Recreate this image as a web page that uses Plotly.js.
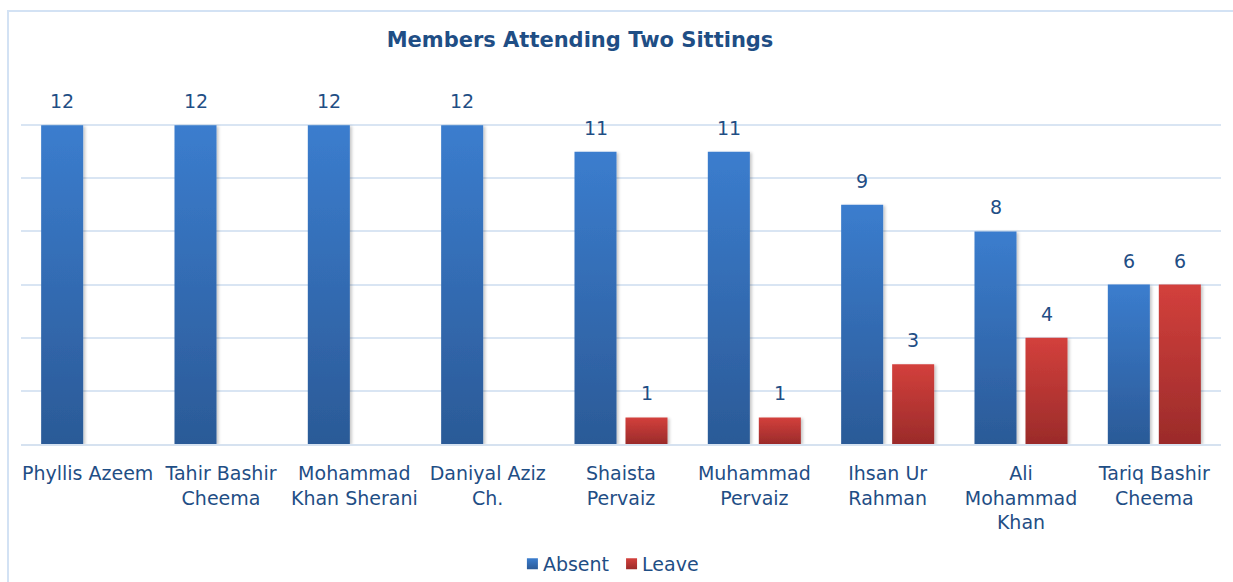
<!DOCTYPE html>
<html>
<head>
<meta charset="utf-8">
<script src="https://cdn.plot.ly/plotly-3.0.1.min.js"></script>
<style>
html,body{margin:0;padding:0;background:#fff;overflow:hidden;}
#wrap{position:relative;width:1233px;height:582px;overflow:hidden;}
#chart{width:1233px;height:582px;}
#frame{position:absolute;left:7px;top:10px;width:1400px;height:700px;
       border-left:2px solid #d3e2f4;border-top:2px solid #d3e2f4;pointer-events:none;}
</style>
</head>
<body>
<div id="wrap">
<div id="chart"></div>
<div id="frame"></div>
</div>
<script>
const categories = [
  "Phyllis Azeem",
  "Tahir Bashir<br>Cheema",
  "Mohammad<br>Khan Sherani",
  "Daniyal Aziz<br>Ch.",
  "Shaista<br>Pervaiz",
  "Muhammad<br>Pervaiz",
  "Ihsan Ur<br>Rahman",
  "Ali<br>Mohammad<br>Khan",
  "Tariq Bashir<br>Cheema"
];
const absentValues = [12, 12, 12, 12, 11, 11, 9, 8, 6];
const leaveValues  = [0, 0, 0, 0, 1, 1, 3, 4, 6];
const seriesNames = ["Absent", "Leave"];
const chartTitle = "Members Attending Two Sittings";

const textColor = "#1f4e85";
const fontFam = "DejaVu Sans, Verdana, sans-serif";
const fs = 19;

const traces = [
  {type:"bar", name:seriesNames[0], x:categories, y:absentValues,
   marker:{color:"#3470bd"}, hoverinfo:"none"},
  {type:"bar", name:seriesNames[1], x:categories, y:leaveValues,
   marker:{color:"#c03a38"}, hoverinfo:"none"}
];

// value labels as annotations (shifted to their group slot)
const annotations = [];
const slotShift = 25.5;
[absentValues, leaveValues].forEach((vals, si) => {
  vals.forEach((v, i) => {
    if (v > 0) {
      annotations.push({
        x: categories[i], y: v, xref:"x", yref:"y",
        text: String(v), showarrow:false,
        xshift: si === 0 ? -slotShift : slotShift,
        yshift: 24, yanchor:"middle",
        font:{family:fontFam, size:fs, color:textColor}
      });
    }
  });
});

const layout = {
  width:1233, height:582,
  margin:{l:21, r:12, t:72, b:138},
  paper_bgcolor:"rgba(0,0,0,0)", plot_bgcolor:"rgba(0,0,0,0)",
  font:{family:fontFam, color:textColor, size:fs},
  title:{text:"<b>"+chartTitle+"</b>", x:580/1233, xref:"container", xanchor:"center",
         y:1-40/582, yref:"container", yanchor:"middle",
         font:{family:fontFam, size:21, color:"#1f4e85"}},
  barmode:"group", bargap:0.235, bargroupgap:0.176,
  xaxis:{type:"category", showgrid:false, showline:true, linecolor:"#d6e2f0", linewidth:2,
         ticks:"", tickfont:{family:fontFam, size:fs, color:textColor}, ticklabelstandoff:11,
         fixedrange:true},
  yaxis:{range:[0,14], dtick:2, showticklabels:false, gridcolor:"#d9e5f3", gridwidth:2,
         zeroline:false, showline:false, ticks:"", fixedrange:true},
  showlegend:true,
  legend:{orientation:"h", xref:"container", x:615/1233, xanchor:"center",
          yref:"container", y:1-564/582, yanchor:"middle",
          font:{family:fontFam, size:fs, color:textColor}, itemwidth:30},
  annotations:annotations
};

Plotly.newPlot("chart", traces, layout, {staticPlot:true, displayModeBar:false}).then(gd => {
  const svg = gd.querySelector(".main-svg");
  const NS = "http://www.w3.org/2000/svg";
  const defs = document.createElementNS(NS, "defs");
  function grad(id, top, bottom){
    const g = document.createElementNS(NS, "linearGradient");
    g.setAttribute("id", id); g.setAttribute("x1","0"); g.setAttribute("y1","0");
    g.setAttribute("x2","0"); g.setAttribute("y2","1");
    [[0,top],[1,bottom]].forEach(([o,c])=>{
      const s = document.createElementNS(NS,"stop");
      s.setAttribute("offset", o); s.setAttribute("stop-color", c);
      g.appendChild(s);
    });
    defs.appendChild(g);
  }
  grad("gradA", "#3b7dce", "#2b5a97");
  grad("gradL", "#d3403c", "#9b2b2a");
  const f = document.createElementNS(NS, "filter");
  f.setAttribute("id","barShadow"); f.setAttribute("x","-20%"); f.setAttribute("y","-20%");
  f.setAttribute("width","150%"); f.setAttribute("height","150%");
  const ds = document.createElementNS(NS, "feDropShadow");
  ds.setAttribute("dx","2"); ds.setAttribute("dy","1"); ds.setAttribute("stdDeviation","1.5");
  ds.setAttribute("flood-color","#000"); ds.setAttribute("flood-opacity","0.22");
  f.appendChild(ds); defs.appendChild(f);
  svg.insertBefore(defs, svg.firstChild);
  const ids = ["gradA","gradL"];
  gd.querySelectorAll(".barlayer .trace").forEach((t, i) => {
    t.querySelectorAll("path").forEach(p => {
      p.style.fill = "url(#" + ids[i] + ")";
      p.setAttribute("filter","url(#barShadow)");
    });
  });

  // tighten legend: small squares close to their labels, centred
  const items = Array.from(gd.querySelectorAll(".legend .traces"));
  items.forEach((t, i) => {
    t.querySelectorAll(".legendpoints path").forEach(p => {
      p.style.fill = "url(#" + ids[i] + ")";
      p.setAttribute("d", "M5.5,5.5H-5.5V-5.5H5.5Z");
    });
  });
  const groupsEl = gd.querySelector(".legend .groups") || items[0].parentNode;
  const ctm = groupsEl.getCTM();
  const widths = items.map(t => t.querySelector("text.legendtext").getComputedTextLength());
  const textOff = 30.5, between = 22.5;
  const total = 14 + (textOff-20) ; // unused helper
  const span = (textOff - 14) + widths[0] + between + (textOff - 20) + widths[1] + 6;
  const centre = 615.5;
  let x = centre - span/2 - 14; // origin of first item (square left at origin+14)
  items.forEach((t, i) => {
    const tf = t.getAttribute("transform") || "";
    const m = tf.match(/translate\(\s*([-\d.]+)[ ,]+([-\d.]+)\s*\)/);
    const y = m ? parseFloat(m[2]) : 0;
    t.setAttribute("transform", "translate(" + (x - ctm.e) + "," + y + ")");
    const tx = t.querySelector("text.legendtext");
    tx.setAttribute("x", textOff);
    x = x + textOff + widths[i] + between - 20;
  });
});
</script>
</body>
</html>
